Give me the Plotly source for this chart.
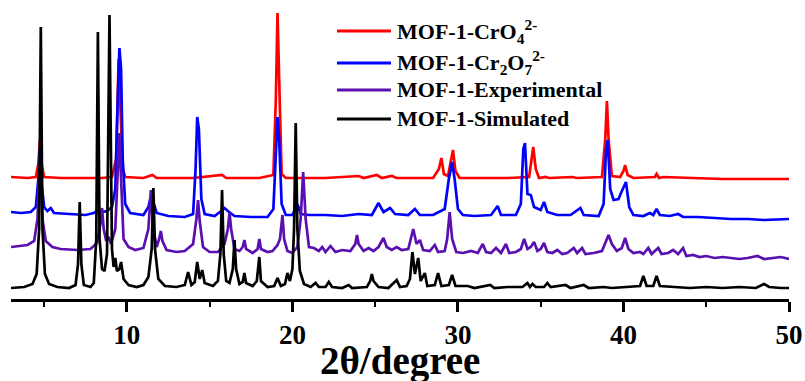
import plotly.graph_objects as go

# ---- data (2theta in degrees, intensity in arbitrary stacked units) ----
red_pts = [(3.0, 122), (4.0, 121), (4.5, 122), (4.65, 135), (4.75, 159), (4.85, 135), (5.0, 122), (6.0, 121),
           (7.5, 121), (8.5, 121), (9.1, 122), (9.35, 140), (9.5, 240), (9.6, 200), (9.75, 130), (9.9, 122),
           (11.0, 121), (11.55, 124), (11.8, 121), (13.0, 121), (14.0, 121), (15.75, 124), (16.0, 121),
           (18.0, 121), (18.85, 124), (19.0, 200), (19.1, 286), (19.2, 220), (19.35, 125), (19.6, 121),
           (21.0, 121), (22.0, 121), (24.0, 123), (24.3, 121), (25.1, 124), (25.4, 121), (26.0, 123),
           (26.3, 121), (28.5, 121), (28.85, 130), (29.0, 141), (29.15, 125), (29.4, 123), (29.6, 140),
           (29.7, 149), (29.85, 128), (30.1, 121), (32.0, 121), (33.0, 121), (34.3, 122), (34.45, 140),
           (34.55, 152), (34.7, 130), (34.9, 121), (35.3, 122), (35.5, 121), (36.9, 122), (37.2, 121),
           (38.7, 122), (38.9, 160), (39.0, 198), (39.1, 160), (39.3, 123), (39.8, 122), (40.0, 128),
           (40.1, 134), (40.25, 124), (40.6, 121), (41.9, 122), (42.0, 125), (42.15, 121), (42.4, 122),
           (44.2, 121), (46.0, 120), (48.0, 120), (50.0, 120)]

blue_pts = [(3.0, 87), (3.6, 86), (4.2, 87), (4.5, 92), (4.65, 120), (4.75, 150), (4.85, 115), (5.0, 92),
            (5.2, 88), (5.4, 91), (5.6, 86), (6.5, 85), (7.5, 84), (8.0, 86), (8.3, 89), (8.5, 87), (8.8, 88),
            (9.1, 92), (9.3, 110), (9.45, 200), (9.55, 251), (9.65, 230), (9.75, 140), (9.9, 95), (10.2, 86),
            (11.0, 84), (11.3, 92), (11.45, 103), (11.6, 97), (11.8, 86), (12.5, 83), (13.5, 82), (14.0, 85),
            (14.15, 130), (14.25, 182), (14.35, 170), (14.5, 100), (14.7, 85), (15.3, 83), (15.7, 88),
            (15.9, 91), (16.1, 88), (16.5, 83), (17.5, 82), (18.5, 82), (18.85, 90), (19.0, 150), (19.1, 182),
            (19.2, 160), (19.35, 95), (19.6, 84), (20.0, 84), (20.3, 95), (20.5, 85), (21.0, 84), (22.0, 84),
            (23.0, 83), (24.0, 85), (24.8, 84), (25.2, 96), (25.5, 87), (25.9, 91), (26.2, 85), (27.0, 84),
            (27.4, 90), (27.7, 84), (28.5, 84), (29.0, 88), (29.2, 90), (29.45, 120), (29.65, 137),
            (29.8, 120), (30.0, 90), (30.3, 84), (31.0, 83), (32.0, 84), (32.4, 93), (32.6, 84), (33.5, 84),
            (33.8, 95), (33.95, 150), (34.05, 156), (34.2, 105), (34.4, 104), (34.6, 92), (35.0, 89),
            (35.2, 97), (35.4, 87), (36.0, 84), (36.8, 84), (37.4, 91), (37.6, 84), (38.5, 83), (38.8, 95),
            (38.95, 150), (39.05, 159), (39.2, 110), (39.4, 99), (39.7, 100), (39.85, 106), (40.15, 117),
            (40.35, 92), (40.6, 84), (41.2, 83), (41.6, 86), (41.8, 84), (42.0, 90), (42.2, 84), (42.8, 83),
            (43.3, 85), (43.6, 82), (44.5, 82), (45.5, 81), (46.5, 80), (47.5, 80), (48.5, 79), (50.0, 80)]

purple_pts = [(3.0, 52), (3.5, 53), (4.0, 54), (4.4, 58), (4.6, 80), (4.75, 151), (4.9, 80), (5.1, 58),
              (5.5, 52), (6.0, 50), (7.0, 49), (7.8, 50), (8.2, 56), (8.4, 75), (8.5, 91), (8.6, 70),
              (8.75, 58), (8.9, 62), (9.05, 55), (9.3, 70), (9.45, 130), (9.55, 166), (9.65, 120), (9.8, 60),
              (10.1, 52), (10.5, 49), (11.0, 51), (11.3, 70), (11.45, 109), (11.6, 70), (11.8, 52),
              (11.95, 60), (12.05, 68), (12.15, 58), (12.4, 49), (13.0, 47), (13.5, 48), (14.0, 55),
              (14.2, 80), (14.3, 99), (14.4, 78), (14.6, 52), (15.0, 47), (15.5, 47), (15.9, 55), (16.1, 70),
              (16.2, 86), (16.3, 70), (16.5, 50), (16.8, 48), (17.0, 52), (17.1, 59), (17.2, 50), (17.6, 46),
              (17.9, 50), (18.0, 60), (18.1, 50), (18.5, 47), (18.8, 48), (19.0, 52), (19.1, 54), (19.25, 60),
              (19.4, 84), (19.5, 60), (19.7, 48), (20.0, 46), (20.3, 52), (20.5, 80), (20.65, 127), (20.8, 80),
              (21.0, 52), (21.3, 51), (21.6, 48), (21.8, 52), (22.0, 47), (22.3, 53), (22.6, 47), (23.0, 49),
              (23.5, 48), (23.8, 55), (23.9, 64), (24.0, 55), (24.3, 48), (24.6, 51), (24.9, 48), (25.2, 52),
              (25.5, 61), (25.7, 52), (26.0, 49), (26.3, 52), (26.6, 49), (27.0, 50), (27.3, 70), (27.5, 55),
              (27.7, 59), (27.9, 49), (28.3, 48), (28.6, 54), (28.8, 47), (29.2, 48), (29.35, 60), (29.5, 87),
              (29.65, 60), (29.9, 47), (30.3, 46), (30.8, 48), (31.2, 46), (31.5, 55), (31.7, 47), (32.0, 46),
              (32.3, 51), (32.6, 46), (32.9, 55), (33.1, 46), (33.5, 47), (33.8, 50), (34.0, 60), (34.2, 50),
              (34.4, 52), (34.6, 57), (34.8, 48), (35.0, 50), (35.2, 56), (35.4, 47), (35.7, 46), (36.0, 49),
              (36.3, 45), (36.6, 46), (37.0, 51), (37.2, 46), (37.5, 51), (37.7, 45), (38.2, 46), (38.7, 48),
              (38.95, 58), (39.1, 64), (39.3, 55), (39.6, 48), (39.9, 51), (40.1, 61), (40.3, 50), (40.6, 46),
              (41.0, 47), (41.2, 45), (41.5, 51), (41.7, 45), (42.1, 51), (42.3, 45), (42.7, 46), (43.0, 49),
              (43.3, 45), (43.6, 51), (43.8, 43), (44.2, 44), (44.6, 42), (45.0, 43), (45.5, 41), (46.0, 42),
              (46.5, 41), (47.0, 40), (47.5, 41), (48.1, 43), (48.5, 40), (49.0, 41), (49.5, 42), (50.0, 40)]

black_pts = [(3.0, 11), (3.8, 12), (4.3, 15), (4.55, 25), (4.7, 70), (4.8, 272), (4.9, 70), (5.05, 25),
             (5.3, 15), (5.8, 12), (6.5, 11), (6.9, 14), (7.05, 35), (7.15, 97), (7.25, 35), (7.4, 14),
             (7.8, 12), (8.0, 16), (8.15, 60), (8.25, 267), (8.35, 60), (8.5, 30), (8.65, 28), (8.8, 45),
             (8.95, 284), (9.1, 50), (9.2, 32), (9.3, 41), (9.4, 28), (9.55, 30), (9.65, 37), (9.8, 20),
             (10.1, 14), (10.6, 12), (11.0, 14), (11.3, 22), (11.5, 50), (11.6, 111), (11.7, 50), (11.9, 20),
             (12.3, 13), (13.0, 12), (13.5, 14), (13.7, 27), (13.9, 14), (14.1, 17), (14.25, 37), (14.4, 20),
             (14.55, 29), (14.7, 16), (15.2, 13), (15.5, 18), (15.65, 45), (15.75, 109), (15.85, 45),
             (16.0, 18), (16.2, 16), (16.4, 30), (16.5, 59), (16.6, 30), (16.8, 15), (17.0, 17), (17.1, 26),
             (17.2, 16), (17.6, 13), (17.85, 18), (18.0, 42), (18.1, 18), (18.5, 12), (18.9, 13), (19.1, 21),
             (19.3, 13), (19.55, 15), (19.7, 26), (19.85, 18), (20.0, 30), (20.1, 70), (20.2, 176), (20.3, 70),
             (20.45, 28), (20.7, 15), (21.1, 12), (21.4, 16), (21.6, 12), (22.0, 12), (22.2, 17), (22.4, 12),
             (23.0, 11), (23.4, 14), (23.6, 11), (24.5, 12), (24.7, 18), (24.8, 25), (24.9, 18), (25.2, 12),
             (25.8, 11), (26.3, 19), (26.5, 12), (26.9, 13), (27.1, 20), (27.25, 47), (27.4, 25), (27.6, 41),
             (27.75, 18), (28.0, 26), (28.15, 13), (28.6, 14), (28.8, 26), (29.0, 13), (29.45, 14),
             (29.65, 24), (29.85, 13), (30.6, 13), (31.0, 11), (31.95, 14), (32.2, 11), (33.0, 12), (33.9, 12),
             (34.2, 16), (34.35, 12), (34.5, 15), (34.7, 12), (35.2, 12), (35.4, 16), (35.6, 12), (36.5, 14),
             (36.8, 11), (37.6, 14), (37.9, 11), (38.8, 12), (39.3, 11), (40.3, 12), (41.0, 13), (41.2, 23),
             (41.4, 13), (41.8, 13), (42.0, 23), (42.2, 13), (43.0, 12), (44.0, 11), (45.0, 12), (46.0, 11),
             (47.0, 12), (48.0, 11), (48.5, 15), (48.8, 12), (49.5, 11), (50.0, 11)]

series_names = ["<b>MOF-1-CrO<sub>4</sub><sup>2-</sup></b>",
                "<b>MOF-1-Cr<sub>2</sub>O<sub>7</sub><sup>2-</sup></b>",
                "<b>MOF-1-Experimental</b>",
                "<b>MOF-1-Simulated</b>"]
series_colors = ["#ff0000", "#0000ff", "#5a10b0", "#000000"]
series_data = [red_pts, blue_pts, purple_pts, black_pts]

x_tick_vals = [10, 20, 30, 40, 50]
x_tick_text = ["<b>10</b>", "<b>20</b>", "<b>30</b>", "<b>40</b>", "<b>50</b>"]
x_title = "<b>2θ/degree</b>"

FONT = "Liberation Serif"

# legend key layout (paper coordinates)
LEG_LINE_X = (0.419, 0.4884)
LEG_TEXT_X = 0.4936
LEG_ROW_Y = [0.924, 0.8138, 0.7207, 0.6207]

fig = go.Figure()
for name, color, pts in zip(series_names, series_colors, series_data):
    fig.add_trace(go.Scatter(
        x=[p[0] for p in pts], y=[p[1] for p in pts], mode="lines", name=name,
        line=dict(color=color, width=2.7), hoverinfo="skip", showlegend=False))

for name, color, ry in zip(series_names, series_colors, LEG_ROW_Y):
    fig.add_shape(type="line", xref="paper", yref="paper",
                  x0=LEG_LINE_X[0], x1=LEG_LINE_X[1], y0=ry, y1=ry,
                  line=dict(color=color, width=3))
    fig.add_annotation(text=name, xref="paper", yref="paper", x=LEG_TEXT_X, y=ry,
                       xanchor="left", yanchor="middle", showarrow=False,
                       font=dict(family=FONT, size=22, color="black"))

fig.add_annotation(text=x_title, xref="paper", yref="paper", x=0.5, y=-0.297,
                   xanchor="center", yanchor="bottom", showarrow=False,
                   font=dict(family=FONT, size=39, color="black"))

fig.update_layout(
    width=805, height=381,
    margin=dict(l=11, r=16, t=9, b=82, autoexpand=False),
    paper_bgcolor="white", plot_bgcolor="white",
    font=dict(family=FONT, color="black"),
    showlegend=False,
    xaxis=dict(range=[3, 50], showgrid=False, zeroline=False, automargin=False,
               showline=True, linecolor="black", linewidth=2.5,
               ticks="outside", ticklen=10, tickwidth=2.5, tickcolor="black",
               tickvals=x_tick_vals, ticktext=x_tick_text,
               tickfont=dict(family=FONT, size=27, color="black"),
               minor=dict(dtick=5, tick0=0, ticks="outside", ticklen=5, tickwidth=2, tickcolor="black", showgrid=False)),
    yaxis=dict(range=[0, 290], visible=False, showgrid=False, zeroline=False, automargin=False),
)

fig.write_html("out.html", config={"displayModeBar": False},
               post_script="document.body.style.margin='0';document.body.style.overflow='hidden';")
